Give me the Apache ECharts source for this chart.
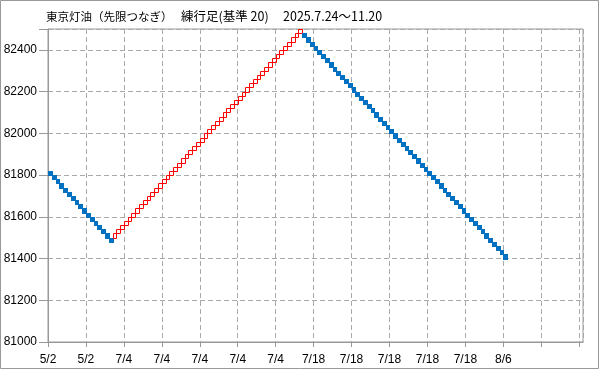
<!DOCTYPE html>
<html>
<head>
<meta charset="utf-8">
<script src="https://cdn.jsdelivr.net/npm/echarts@6/dist/echarts.min.js"></script>
<style>
html,body{margin:0;padding:0;background:#fff;}
#chart{width:599px;height:369px;}
</style>
</head>
<body>
<div id="chart"></div>
<script>
// ---- data ----
const titleMain = '東京灯油（先限つなぎ）';
const titleKind = '練行足(基準 20)';
const titlePeriod = '2025.7.24～11.20';
const BOX = 20;
// low value of every brick, in order
const brickLow = [
  81800,81780,81760,81740,81720,81700,81680,81660,81640,81620,81600,81580,81560,81540,81520,81500,81480,
  81500,81520,81540,81560,81580,81600,81620,81640,81660,81680,
  81700,81720,81740,81760,81780,81800,81820,81840,81860,81880,
  81900,81920,81940,81960,81980,82000,82020,82040,82060,82080,
  82100,82120,82140,82160,82180,82200,82220,82240,82260,82280,
  82300,82320,82340,82360,82380,82400,82420,82440,82460,82480,
  82460,82440,82420,82400,82380,82360,82340,82320,82300,82280,
  82260,82240,82220,82200,82180,82160,82140,82120,82100,82080,
  82060,82040,82020,82000,81980,81960,81940,81920,81900,81880,
  81860,81840,81820,81800,81780,81760,81740,81720,81700,81680,
  81660,81640,81620,81600,81580,81560,81540,81520,81500,81480,
  81460,81440,81420,81400
];
// direction of every brick: U = up (hollow red), D = down (filled blue)
const brickDir = (
  'DDDDDDDDDD' + 'DDDDDDD' +
  'UUUUUUUUUU' + 'UUUUUUUUUU' + 'UUUUUUUUUU' + 'UUUUUUUUUU' + 'UUUUUUUUUU' +
  'DDDDDDDDDD' + 'DDDDDDDDDD' + 'DDDDDDDDDD' + 'DDDDDDDDDD' + 'DDDDDDDDDD' + 'DDDD'
).split('');
// x tick labels every 10 bricks
const xTickLabels = ['5/2','5/2','7/4','7/4','7/4','7/4','7/4','7/18','7/18','7/18','7/18','7/18','8/6','',''];
const yMin = 81000, yMax = 82500, yStep = 200;

// ---- chart ----
const seriesData = brickLow.map((lo, i) => [i, lo, lo + BOX, brickDir[i] === 'U' ? 1 : -1]);

function renderItem(params, api) {
  const i = api.value(0), lo = api.value(1), hi = api.value(2), up = api.value(3) > 0;
  const tl = api.coord([i, hi]);
  const br = api.coord([i + 1, lo]);
  const x0 = Math.round(tl[0]), y0 = Math.round(tl[1]);
  const x1 = Math.round(br[0]), y1 = Math.round(br[1]);
  if (up) {
    return {
      type: 'rect',
      shape: { x: x0 + 0.5, y: y0 + 0.5, width: x1 - x0, height: y1 - y0 },
      style: { fill: 'none', stroke: '#FF0000', lineWidth: 1 }
    };
  }
  return {
    type: 'rect',
    shape: { x: x0, y: y0, width: x1 - x0 + 1, height: y1 - y0 + 1 },
    style: { fill: '#0070C0', stroke: 'none' }
  };
}

const chart = echarts.init(document.getElementById('chart'), null, { renderer: 'canvas' });
const titleFont = '"Noto Sans CJK JP", sans-serif';
chart.setOption({
  animation: false,
  backgroundColor: '#fff',
  title: [
    { text: titleMain, left: 46, top: 10.5, padding: 0,
      textStyle: { fontSize: 11.5, fontWeight: 'normal', color: '#000', fontFamily: titleFont } },
    { text: titleKind, left: 181, top: 10, padding: 0,
      textStyle: { fontSize: 12.5, fontWeight: 'normal', color: '#000', fontFamily: titleFont } },
    { text: titlePeriod, left: 283, top: 10, padding: 0,
      textStyle: { fontSize: 12.5, fontWeight: 'normal', color: '#000', fontFamily: titleFont } }
  ],
  graphic: [{
    type: 'rect', silent: true, z: 100,
    shape: { x: 0.5, y: 0.5, width: 598, height: 368 },
    style: { fill: 'none', stroke: '#999', lineWidth: 1 }
  }],
  grid: { left: 48, right: 16, top: 29, bottom: 27, show: true, borderColor: '#999', borderWidth: 1, backgroundColor: '#fff' },
  xAxis: {
    type: 'value', min: 0, max: 141, interval: 10,
    axisLine: { show: true, lineStyle: { color: '#999' } },
    axisTick: { show: true, length: 5, lineStyle: { color: '#999' } },
    splitLine: { show: true, lineStyle: { color: '#aaa', type: [5, 3] } },
    axisLabel: {
      margin: 12, fontSize: 12, color: '#000', fontFamily: '"Liberation Sans", Arial, sans-serif',
      showMaxLabel: false,
      formatter: v => (v % 10 === 0 ? (xTickLabels[v / 10] || '') : '')
    }
  },
  yAxis: {
    type: 'value', min: yMin, max: yMax, interval: yStep,
    axisLine: { show: true, lineStyle: { color: '#999' } },
    axisTick: { show: true, length: 9, lineStyle: { color: '#999' } },
    splitLine: { show: true, lineStyle: { color: '#aaa', type: [5, 3] } },
    axisLabel: {
      margin: 11, fontSize: 12, color: '#000', fontFamily: '"Liberation Sans", Arial, sans-serif',
      formatter: v => ((v - yMin) % yStep === 0 ? String(v) : '')
    }
  },
  series: [{
    type: 'custom',
    renderItem: renderItem,
    data: seriesData,
    encode: { x: 0, y: [1, 2] },
    clip: true
  }]
});
</script>
</body>
</html>
